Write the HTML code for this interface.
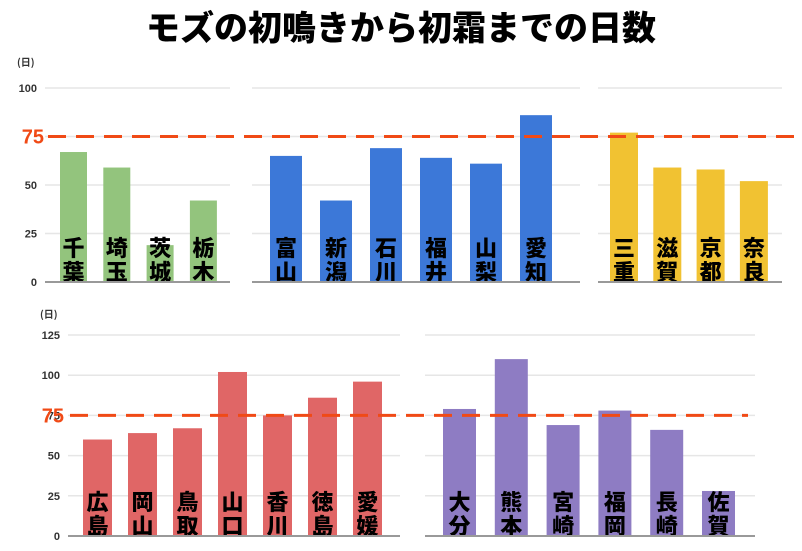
<!DOCTYPE html>
<html><head><meta charset="utf-8">
<style>
body{margin:0;background:#fff;width:802px;height:546px;overflow:hidden;font-family:"Liberation Sans","Noto Sans CJK JP",sans-serif}
</style></head>
<body>
<svg id="chart" width="802" height="546" xmlns="http://www.w3.org/2000/svg" font-family="Liberation Sans, Noto Sans CJK JP, sans-serif">
<text x="401" y="40" text-anchor="middle" font-size="34" font-weight="900" fill="#000" font-family="Noto Sans CJK JP, sans-serif">モズの初鳴きから初霜までの日数</text>
</svg>
<script>
const topCats1=["千葉","埼玉","茨城","栃木"];
const topVals1=[67,59,19,42];
const topCats2=["富山","新潟","石川","福井","山梨","愛知"];
const topVals2=[65,42,69,64,61,86];
const topCats3=["三重","滋賀","京都","奈良"];
const topVals3=[77,59,58,52];
const botCats1=["広島","岡山","鳥取","山口","香川","徳島","愛媛"];
const botVals1=[60,64,67,102,75,86,96];
const botCats2=["大分","熊本","宮崎","福岡","長崎","佐賀"];
const botVals2=[79,110,69,78,66,28];
const topTicks=[0,25,50,100];
const botTicks=[0,25,50,75,100,125];
const refValue=75;

const svg=document.getElementById('chart');
const NS="http://www.w3.org/2000/svg";
function mk(tag,attrs){const e=document.createElementNS(NS,tag);for(const k in attrs)e.setAttribute(k,attrs[k]);svg.appendChild(e);return e;}

const topY=v=>282-v*1.94;
const botY=v=>536-v*1.608;

function group(cats,vals,yf,x0,x1,barStart,step,barW,color,name){
  [0,25,50,75,100,125].forEach(t=>{
    if(yf===topY&&t>100)return;
    if(t===0)return;
    const g=mk('line',{x1:x0,x2:x1,y1:yf(t),y2:yf(t),stroke:'#e6e6e6','stroke-width':1.5});
    
    
  });
  cats.forEach((c,i)=>{
    const x=barStart+i*step;
    const r=mk('rect',{x:x,y:yf(vals[i]),width:barW,height:yf(0)-yf(vals[i]),fill:color});
    
    
    [0,1].forEach(j=>{
      const t=mk('text',{x:x+barW/2,y:yf(0)-26+j*24,'text-anchor':'middle','font-size':22,'font-weight':900,fill:'#000','font-family':'Noto Sans CJK JP, sans-serif'});
      t.textContent=c[j];
      
      
    });
  });
  const a=mk('line',{x1:x0,x2:x1,y1:yf(0),y2:yf(0),stroke:'#999','stroke-width':2});
  
  
}
group(topCats1,topVals1,topY,45,230,60,43.3,27,'#93c47d','group-kanto');
group(topCats2,topVals2,topY,252,580,270,50,32,'#3c78d8','group-chubu');
group(topCats3,topVals3,topY,598,782,610,43.3,28,'#f1c232','group-kinki');
group(botCats1,botVals1,botY,68,400,83,45,29,'#e06666','group-chugoku-shikoku');
group(botCats2,botVals2,botY,425,755,443,51.8,33,'#8e7cc3','group-kyushu');

function ticks(list,yf,x,unitY,name){
  list.forEach(t=>{
    const e=mk('text',{x:x,y:yf(t)+4,'text-anchor':'end','font-size':11,'font-weight':700,fill:'#333'});
    e.textContent=t;
    
    
  });
  const u=mk('text',{x:x-20,y:unitY,'font-size':10,'font-weight':700,fill:'#333','font-family':'Noto Sans CJK JP, sans-serif'});
  u.textContent='(日)';
  
  
}
ticks(topTicks,topY,37,66,'top-y-axis');
ticks(botTicks,botY,60,318,'bottom-y-axis');

function ref(yf,x0,x1,lx,name){
  const l=mk('line',{x1:x0,x2:x1,y1:yf(refValue),y2:yf(refValue),stroke:'#f04a16','stroke-width':3,'stroke-dasharray':'18,10'});
  
  
  const t=mk('text',{x:lx,y:yf(refValue)+7,'text-anchor':'end','font-size':20,'font-weight':900,fill:'#f04a16'});
  t.textContent=refValue;
  
  
}
ref(topY,48,795,44,'top');
ref(botY,70,748,64,'bottom');
</script>
</body></html>
